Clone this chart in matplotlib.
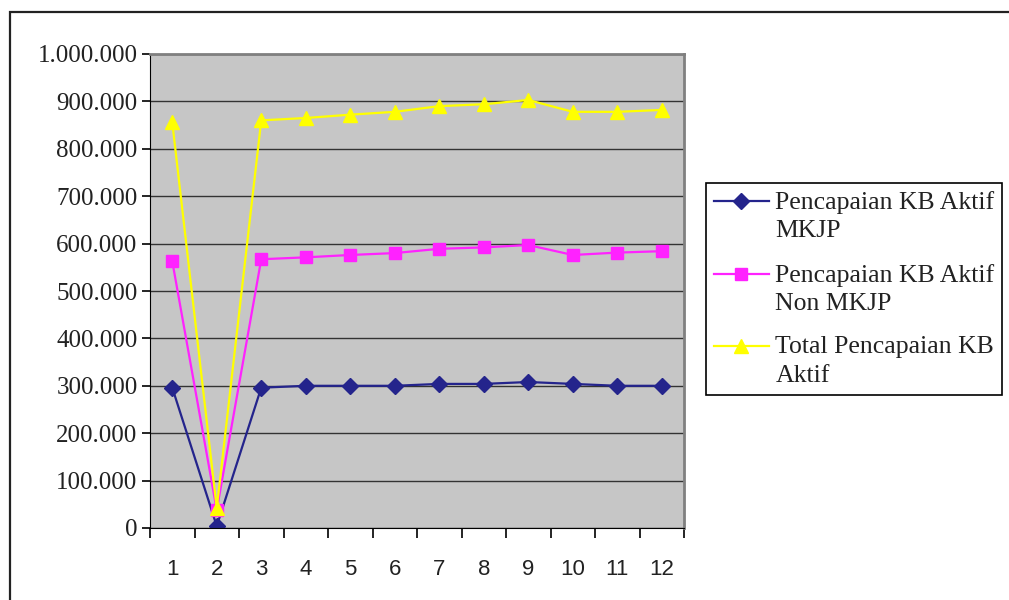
import numpy as np
import matplotlib.pyplot as plt
from matplotlib.ticker import FuncFormatter, FixedLocator
from matplotlib.patches import Rectangle
from matplotlib.legend_handler import HandlerLine2D

#==================================
#          data
#==================================
bulan = [1, 2, 3, 4, 5, 6, 7, 8, 9, 10, 11, 12]
kb_mkjp = [296000, 4000, 296000, 300000, 300000, 300000, 304000, 304000,
           308000, 304000, 300000, 300000]
kb_non_mkjp = [563000, 38000, 567000, 571000, 576000, 580000, 589000,
               592000, 597000, 576000, 581000, 584000]
kb_total = [856000, 42000, 860000, 865000, 872000, 878000, 890000, 894000,
            903000, 878000, 878000, 882000]
label_mkjp = 'Pencapaian KB Aktif\nMKJP'
label_non = 'Pencapaian KB Aktif\nNon MKJP'
label_total = 'Total Pencapaian KB\nAktif'


# legend key sits beside the first line of a two-line label
class FirstLineHandler(HandlerLine2D):
    def create_artists(self, legend, orig_handle, xdescent, ydescent,
                       width, height, fontsize, trans):
        arts = super().create_artists(legend, orig_handle, xdescent, ydescent,
                                      width, height, fontsize, trans)
        for a in arts:
            a.set_ydata(np.asarray(a.get_ydata()) + 0.6 * fontsize)
        return arts


#==================================
#          plot
#==================================
fig = plt.figure(figsize=(10.09, 6.0), dpi=100)

# outer frame of the chart object
fig.patches.append(Rectangle((10 / 1009, -0.05), 1.1, (600 - 12) / 600 + 0.05,
                             transform=fig.transFigure, fill=False,
                             edgecolor='#222222', linewidth=1.6))

ax = fig.add_axes([150 / 1009, 72 / 600, 534 / 1009, 474 / 600])
ax.set_facecolor('#c6c6c6')

ax.plot(bulan, kb_mkjp, '-D', color='#24248c', markersize=8.5, lw=1.6,
        label=label_mkjp)
ax.plot(bulan, kb_non_mkjp, '-s', color='#ff22ff', markersize=8, lw=1.6,
        label=label_non)
ax.plot(bulan, kb_total, '-^', color='#ffff00', markersize=10, lw=1.6,
        label=label_total)

ax.set_xlim(0.5, 12.5)
ax.set_ylim(0, 1000000)
ax.set_yticks(np.arange(0, 1000001, 100000))
ax.yaxis.set_major_formatter(FuncFormatter(lambda v, p: f'{int(v):,}'.replace(',', '.')))
ax.grid(axis='y', color='#333333', lw=1.0)
ax.set_axisbelow(True)

ax.set_xticks(bulan)
ax.xaxis.set_minor_locator(FixedLocator(np.arange(0.5, 12.6, 1)))
ax.tick_params(axis='x', which='major', length=0, pad=22, labelsize=16)
ax.tick_params(axis='x', which='minor', length=7, width=1.2, color='black')
ax.tick_params(axis='y', length=6, width=1.2, pad=3, labelsize=18)
for t in ax.get_xticklabels():
    t.set_fontfamily('Liberation Sans')
    t.set_color('#222222')
for t in ax.get_yticklabels():
    t.set_fontfamily('Liberation Serif')
    t.set_color('#222222')

ax.spines['top'].set_color('#808080')
ax.spines['right'].set_color('#808080')
ax.spines['top'].set_linewidth(2)
ax.spines['right'].set_linewidth(2)
ax.spines['left'].set_color('black')
ax.spines['bottom'].set_color('black')

leg = ax.legend(loc='upper left', bbox_to_anchor=(706 / 1009, 1 - 183 / 600),
                bbox_transform=fig.transFigure, borderaxespad=0,
                frameon=True, fancybox=False,
                edgecolor='black', framealpha=1, borderpad=0.3,
                labelspacing=0.82, handlelength=2.15, handletextpad=0.25,
                handler_map={plt.Line2D: FirstLineHandler()},
                prop={'family': 'Liberation Serif', 'size': 18.5})
leg.get_frame().set_linewidth(1.2)
for t in leg.get_texts():
    t.set_linespacing(1.4)
    t.set_color('#222222')

plt.savefig('out.png', dpi=100)
